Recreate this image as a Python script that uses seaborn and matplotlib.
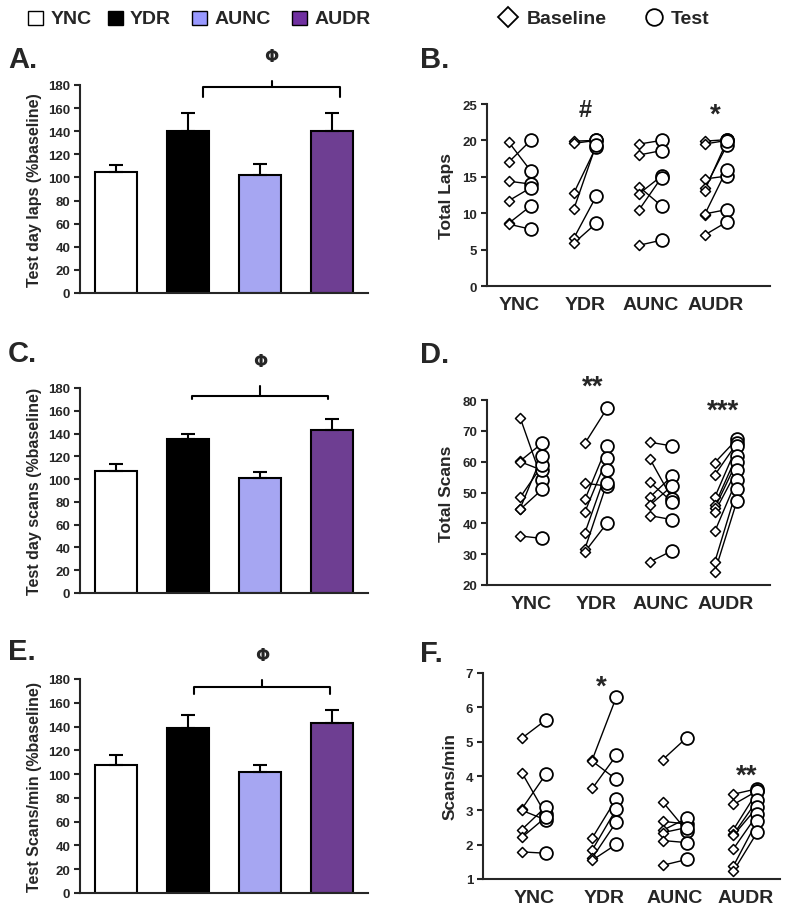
import numpy as np
import pandas as pd
import matplotlib
matplotlib.use("Agg")
import matplotlib.pyplot as plt
from matplotlib.patches import Rectangle
from matplotlib.lines import Line2D
import seaborn as sns

GROUPS = ["YNC", "YDR", "AUNC", "AUDR"]
BAR_COLORS = ["#FFFFFF", "#000000", "#9999FF", "#7030A0"]

# % of baseline (mean, SEM) -- panels A, C, E
LAPS_PCT = [105, 140, 102, 140]
LAPS_PCT_SEM = [6, 16, 10, 16]
SCANS_PCT = [107, 135, 101, 143]
SCANS_PCT_SEM = [6, 5, 5, 10]
RATE_PCT = [108, 139, 102, 143]
RATE_PCT_SEM = [8, 11, 6, 11]

# individual animals, baseline vs test -- panels B, D, F
LAPS_BASE = [[19.8, 17.0, 14.4, 11.7, 8.6, 8.5],
             [19.9, 19.6, 12.8, 10.6, 6.6, 5.9],
             [19.5, 18.0, 13.6, 12.7, 10.5, 5.6],
             [19.9, 19.5, 14.7, 13.4, 13.1, 9.8, 9.9, 7.0]]
LAPS_TEST = [[15.8, 20.0, 14.0, 13.5, 11.0, 7.8],
             [20.0, 20.0, 19.1, 19.4, 12.3, 8.6],
             [20.0, 18.6, 11.0, 15.1, 14.9, 6.3],
             [20.1, 20.0, 15.1, 19.3, 19.9, 16.0, 10.5, 8.8]]

SCANS_BASE = [[74.3, 60.2, 60.0, 48.4, 44.8, 44.5, 35.9],
              [66.0, 53.0, 47.8, 43.8, 37.0, 31.8, 30.8],
              [66.3, 60.9, 53.3, 48.5, 45.9, 42.5, 27.5],
              [59.7, 55.7, 48.5, 46.0, 45.0, 43.7, 37.4, 27.5, 24.3]]
SCANS_TEST = [[54.0, 66.0, 57.2, 58.8, 62.0, 51.0, 35.1],
              [77.3, 52.1, 65.1, 61.1, 57.3, 53.2, 40.1],
              [65.1, 48.0, 47.0, 55.3, 52.1, 41.2, 31.1],
              [67.3, 66.0, 65.0, 62.0, 60.0, 57.2, 54.2, 51.1, 47.2]]

RATE_BASE = [[5.10, 4.10, 3.04, 3.00, 2.44, 2.21, 1.79],
             [4.48, 4.43, 3.64, 2.20, 1.85, 1.62, 1.55],
             [4.48, 3.24, 2.68, 2.42, 2.35, 2.12, 1.40],
             [3.47, 3.17, 2.44, 2.30, 2.27, 1.88, 1.38, 1.23]]
RATE_TEST = [[5.63, 2.88, 4.05, 2.72, 3.10, 2.80, 1.75],
             [6.30, 3.90, 4.60, 3.34, 3.04, 2.66, 2.01],
             [5.12, 2.40, 2.60, 2.77, 2.50, 2.06, 1.57],
             [3.63, 3.57, 3.55, 3.30, 3.10, 2.88, 2.70, 2.37]]

sns.set_style("ticks")
plt.rcParams["font.family"] = ["Liberation Sans", "DejaVu Sans"]
plt.rcParams["font.weight"] = "bold"
plt.rcParams["axes.linewidth"] = 1.5

W, H = 800, 912
fig = plt.figure(figsize=(8, 9.12), dpi=100)


def ax_px(left, right, top, bottom):
    return fig.add_axes([left / W, 1 - bottom / H, (right - left) / W, (bottom - top) / H])


def style_axis(ax):
    sns.despine(ax=ax)
    ax.tick_params(axis="y", length=4, width=1.5, labelsize=9.5, pad=3)
    for lab in ax.get_yticklabels():
        lab.set_fontweight("bold")


def bar_panel(ax, means, sems, ylabel, bracket):
    df = pd.DataFrame({"group": GROUPS, "value": means})
    sns.barplot(data=df, x="group", y="value", hue="group", palette=BAR_COLORS,
                edgecolor="black", linewidth=1.5, width=0.58, legend=False, ax=ax)
    ax.errorbar(range(4), means, yerr=[np.zeros(4), sems], fmt="none",
                ecolor="black", elinewidth=1.5, capsize=5, capthick=1.5, zorder=1)
    ax.set_xlim(-0.5, 3.5)
    ax.set_ylim(0, 180)
    ax.set_yticks(range(0, 181, 20))
    ax.set_xticks([])
    ax.set_xlabel("")
    ax.set_ylabel(ylabel, fontsize=11.5, fontweight="bold", labelpad=4)
    style_axis(ax)
    x0, x1, y_end, y_h, y_top, y_phi = bracket
    xc = (x0 + x1) / 2
    ax.plot([x0, x0, x1, x1], [y_end, y_h, y_h, y_end], color="black", lw=1.5, clip_on=False)
    ax.plot([xc, xc], [y_h, y_top], color="black", lw=1.5, clip_on=False)
    ax.text(xc, y_phi, "Φ", ha="center", va="center", fontsize=12, fontweight="bold",
            family=["DejaVu Sans"])


def pair_panel(ax, base, test, ylabel, ylim, yticks, xlim, marks):
    rows = []
    sid = 0
    for gi, (b, t) in enumerate(zip(base, test)):
        for bv, tv in zip(b, t):
            rows.append({"subject": sid, "x": gi - 0.17, "value": bv, "phase": "Baseline"})
            rows.append({"subject": sid, "x": gi + 0.17, "value": tv, "phase": "Test"})
            sid += 1
    df = pd.DataFrame(rows)
    sns.lineplot(data=df, x="x", y="value", units="subject", estimator=None,
                 color="black", lw=1.0, sort=False, ax=ax, zorder=2)
    sns.scatterplot(data=df[df.phase == "Baseline"], x="x", y="value", marker="D", s=26,
                    color="white", edgecolor="black", linewidth=1.1, ax=ax, zorder=3,
                    clip_on=False)
    sns.scatterplot(data=df[df.phase == "Test"], x="x", y="value", marker="o", s=85,
                    color="white", edgecolor="black", linewidth=1.3, ax=ax, zorder=3,
                    clip_on=False)
    ax.set_xlim(*xlim)
    ax.set_ylim(*ylim)
    ax.set_yticks(yticks)
    ax.set_xticks(range(4))
    ax.set_xticklabels(GROUPS, fontsize=14, fontweight="bold")
    ax.tick_params(axis="x", length=0, pad=7)
    ax.set_xlabel("")
    ax.set_ylabel(ylabel, fontsize=12.5, fontweight="bold", labelpad=6)
    style_axis(ax)
    for x, y, s, fs in marks:
        ax.text(x, y, s, ha="center", va="center", fontsize=fs, fontweight="bold", clip_on=False)


# left column
axA = ax_px(80, 368, 86, 294)
bar_panel(axA, LAPS_PCT, LAPS_PCT_SEM, "Test day laps (%baseline)",
          (1.21, 3.11, 170, 178, 183.5, 205))
axC = ax_px(80, 368, 389, 594)
bar_panel(axC, SCANS_PCT, SCANS_PCT_SEM, "Test day scans (%baseline)",
          (1.06, 2.94, 170, 173, 181.7, 204))
axE = ax_px(80, 368, 680, 894)
bar_panel(axE, RATE_PCT, RATE_PCT_SEM, "Test Scans/min (%baseline)",
          (1.08, 2.97, 167.4, 173.3, 179.2, 200))

# right column
axB = ax_px(487, 770, 105, 287)
pair_panel(axB, LAPS_BASE, LAPS_TEST, "Total Laps", (0, 25), range(0, 26, 5),
           (-0.5, 3.83), [(1.0, 24.2, "#", 17), (3.0, 23.6, "*", 20)])
axD = ax_px(487, 770, 401, 586)
pair_panel(axD, SCANS_BASE, SCANS_TEST, "Total Scans", (20, 80), range(20, 81, 10),
           (-0.68, 3.68), [(0.95, 84.3, "**", 20), (2.95, 76.6, "***", 20)])
axF = ax_px(483, 780, 674, 880)
pair_panel(axF, RATE_BASE, RATE_TEST, "Scans/min", (1, 7), range(1, 8),
           (-0.72, 3.49), [(0.96, 6.6, "*", 20), (3.02, 4.02, "**", 20)])

# panel letters
for x, y, s in [(8, 68, "A."), (420, 68, "B."), (8, 362, "C."), (420, 363, "D."),
                (8, 660, "E."), (420, 662, "F.")]:
    fig.text(x / W, 1 - y / H, s, fontsize=21, fontweight="bold", va="baseline")

# group legend
for (xs, xt), name, col in zip([(28, 51), (108, 130), (192, 215), (292, 315)], GROUPS, BAR_COLORS):
    fig.add_artist(Rectangle((xs / W, 1 - 26 / H), 15 / W, 14 / H, facecolor=col,
                             edgecolor="black", lw=1.0, transform=fig.transFigure))
    fig.text(xt / W, 1 - 19 / H, name, fontsize=14, fontweight="bold", va="center")

# baseline / test legend
fig.add_artist(Line2D([508 / W], [1 - 18 / H], marker="D", markersize=10.5, color="white",
                      markeredgecolor="black", markeredgewidth=1.3, transform=fig.transFigure))
fig.text(527 / W, 1 - 19 / H, "Baseline", fontsize=14, fontweight="bold", va="center")
fig.add_artist(Line2D([654 / W], [1 - 18 / H], marker="o", markersize=12, color="white",
                      markeredgecolor="black", markeredgewidth=1.3, transform=fig.transFigure))
fig.text(671 / W, 1 - 19 / H, "Test", fontsize=14, fontweight="bold", va="center")

fig.savefig("out.png", dpi=100)
